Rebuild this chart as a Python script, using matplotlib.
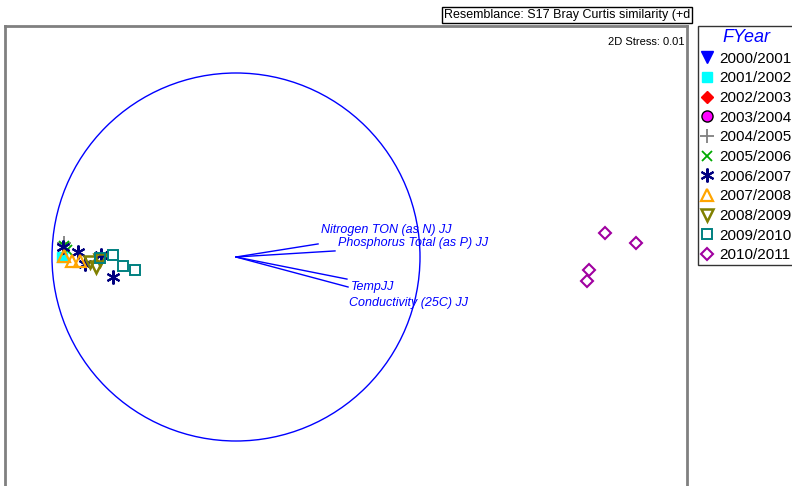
import matplotlib.pyplot as plt
from matplotlib.lines import Line2D
from matplotlib.patches import Circle

plt.rcParams['font.family'] = ['Liberation Sans', 'DejaVu Sans']

# nMDS coordinates per financial year (circle radius = 1)
years = ['2000/2001', '2001/2002', '2002/2003', '2003/2004', '2004/2005',
         '2005/2006', '2006/2007', '2007/2008', '2008/2009', '2009/2010',
         '2010/2011']
x_2000 = []
y_2000 = []
x_2001 = [-0.948]
y_2001 = [0.000]
x_2002 = []
y_2002 = []
x_2003 = []
y_2003 = []
x_2004 = [-0.935]
y_2004 = [0.076]
x_2005 = [-0.935, -0.918]
y_2005 = [0.060, 0.038]
x_2006 = [-0.859, -0.734, -0.821, -0.668, -0.940]
y_2006 = [0.027, 0.011, -0.038, -0.109, 0.054]
x_2007 = [-0.935, -0.891, -0.848]
y_2007 = [0.005, -0.022, -0.022]
x_2008 = [-0.793, -0.761, -0.739]
y_2008 = [-0.027, -0.054, -0.016]
x_2009 = [-0.739, -0.668, -0.614, -0.549]
y_2009 = [-0.005, 0.011, -0.049, -0.071]
x_2010 = [2.005, 2.174, 1.918, 1.908]
y_2010 = [0.130, 0.076, -0.071, -0.130]

# environmental vectors
vec_names = ['Nitrogen TON (as N) JJ', 'Phosphorus Total (as P) JJ',
             'TempJJ', 'Conductivity (25C) JJ']
vec_x = [0.446, 0.538, 0.609, 0.603]
vec_y = [0.071, 0.033, -0.163, -0.120]
lab_x = [0.462, 0.554, 0.625, 0.614]
lab_y = [0.147, 0.076, -0.163, -0.250]

xs = [x_2000, x_2001, x_2002, x_2003, x_2004, x_2005, x_2006, x_2007,
      x_2008, x_2009, x_2010]
ys = [y_2000, y_2001, y_2002, y_2003, y_2004, y_2005, y_2006, y_2007,
      y_2008, y_2009, y_2010]

styles = [
    dict(marker='v', color='#0000ff', mfc='#0000ff', ms=8),
    dict(marker='s', color='#00ffff', mfc='#00ffff', ms=7),
    dict(marker='D', color='#ff0000', mfc='#ff0000', ms=6),
    dict(marker='o', color='black', mfc='#ff00ff', ms=8, mew=1),
    dict(marker='+', color='#808080', mfc='none', ms=10, mew=1.3),
    dict(marker='x', color='#00aa00', mfc='none', ms=7, mew=1.3),
    dict(marker=(6, 2, 0), color='#000080', mfc='none', ms=10, mew=1.5),
    dict(marker='^', color='#ffa500', mfc='none', ms=8, mew=1.6),
    dict(marker='v', color='#808000', mfc='none', ms=9, mew=1.8),
    dict(marker='s', color='#008080', mfc='none', ms=7, mew=1.4),
    dict(marker='D', color='#a000a0', mfc='none', ms=6, mew=1.5),
]

W, H = 792, 486
cx, cy, r = 236, 257, 184  # pixel centre and radius of the unit circle

fig = plt.figure(figsize=(W / 100, H / 100), dpi=100)
left, right, top, bottom = 5, 687, 26, 520
ax = fig.add_axes([left / W, 1 - bottom / H, (right - left) / W, (bottom - top) / H])
ax.set_xlim((left - cx) / r, (right - cx) / r)
ax.set_ylim((cy - bottom) / r, (cy - top) / r)
ax.set_xticks([])
ax.set_yticks([])
for s in ax.spines.values():
    s.set_color('#808080')
    s.set_linewidth(2)

ax.add_patch(Circle((0, 0), 1, fill=False, ec='#0000ff', lw=1))

for i in range(len(vec_names)):
    ax.plot([0, vec_x[i]], [0, vec_y[i]], color='#0000ff', lw=1)
    ax.text(lab_x[i], lab_y[i], vec_names[i], color='#0000ff', style='italic',
            fontsize=9, ha='left', va='center')

handles = []
for i in range(len(years)):
    st = styles[i]
    ax.plot(xs[i], ys[i], ls='none', marker=st['marker'], color=st['color'],
            mfc=st['mfc'], ms=st['ms'], mew=st.get('mew', 1), clip_on=False)
    handles.append(Line2D([], [], ls='none', marker=st['marker'], color=st['color'],
                          mfc=st['mfc'], ms=st['ms'], mew=st.get('mew', 1)))

ax.text(0.997, 0.977, '2D Stress: 0.01', transform=ax.transAxes, ha='right',
        va='top', fontsize=8)

fig.text(444 / W, 1 - 15 / H, 'Resemblance: S17 Bray Curtis similarity (+d',
         fontsize=9, ha='left', va='center',
         bbox=dict(boxstyle='square,pad=0.15', fc='white', ec='black', lw=1))

leg = fig.legend(handles, years, loc='upper left',
                 bbox_to_anchor=(698 / W, 1 - 26 / H), frameon=True,
                 fancybox=False, edgecolor='black', fontsize=11,
                 title='FYear', title_fontsize=13, borderaxespad=0,
                 handlelength=0.8, handletextpad=0.4, labelspacing=0.37,
                 borderpad=0.2)
leg.get_frame().set_linewidth(1)
leg.get_title().set_color('#0000ff')
leg.get_title().set_style('italic')

fig.savefig('out.png', dpi=100)
